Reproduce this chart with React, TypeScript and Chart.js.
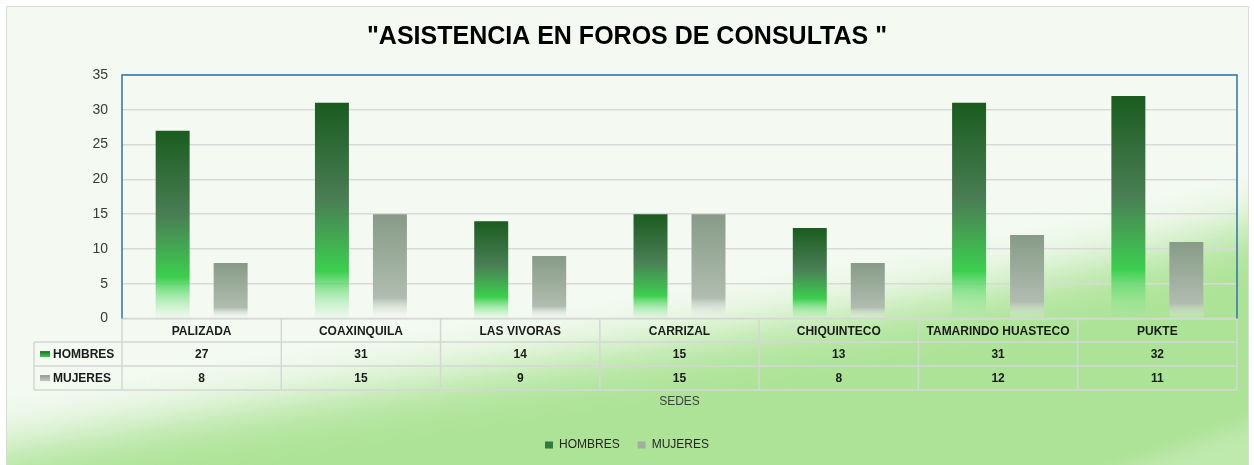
import React, { useEffect, useRef } from 'react';
import { Chart, registerables } from 'chart.js';

Chart.register(...registerables);

const categories = ['PALIZADA', 'COAXINQUILA', 'LAS VIVORAS', 'CARRIZAL', 'CHIQUINTECO', 'TAMARINDO HUASTECO', 'PUKTE'];
const hombres = [27, 31, 14, 15, 13, 31, 32];
const mujeres = [8, 15, 9, 15, 8, 12, 11];
const seriesNames = ['HOMBRES', 'MUJERES'];
const yMin = 0;
const yMax = 35;
const yStep = 5;
const chartTitle = '"ASISTENCIA EN FOROS DE CONSULTAS "';
const axisTitle = 'SEDES';

const FONT = "'Liberation Sans', Arial, sans-serif";
const legendColors = ['#2e7d3a', '#a2ada2'];

function barFill(kind: number) {
  return (c: any) => {
    const chart = c.chart;
    const y = chart.scales && chart.scales.y;
    const fallback = legendColors[kind];
    if (c.type !== 'data' || !y || !chart.chartArea) return fallback;
    const v = c.raw;
    const top = y.getPixelForValue(v);
    const base = y.getPixelForValue(0);
    if (!isFinite(top) || !isFinite(base) || Math.abs(base - top) < 1) return fallback;
    const g = chart.ctx.createLinearGradient(0, top, 0, base);
    if (kind === 0) {
      g.addColorStop(0, '#1a5c1f');
      g.addColorStop(0.45, '#4a7e55');
      g.addColorStop(0.78, '#3ccf4e');
      g.addColorStop(1, 'rgba(150,235,160,0.05)');
    } else {
      g.addColorStop(0, '#879b87');
      g.addColorStop(0.8, '#b0bcb0');
      g.addColorStop(1, 'rgba(240,242,240,0.1)');
    }
    return g;
  };
}

const backgroundPlugin = {
  id: 'bgPanel',
  beforeDraw(chart: any) {
    const { ctx, width, height } = chart;
    ctx.save();
    ctx.fillStyle = '#ffffff';
    ctx.fillRect(0, 0, width, height);
    const fx = 6, fy = 6, fw = 1243, fh = height;
    ctx.beginPath();
    ctx.rect(fx, fy, fw, fh);
    ctx.clip();
    ctx.fillStyle = '#f4faf2';
    ctx.fillRect(fx, fy, fw, fh);
    ctx.save();
    ctx.filter = 'blur(26px)';
    ctx.fillStyle = '#ade397';
    ctx.beginPath();
    ctx.moveTo(-80, 462);
    ctx.bezierCurveTo(200, 412, 480, 372, 700, 336);
    ctx.bezierCurveTo(900, 302, 1100, 275, 1330, 200);
    ctx.lineTo(1330, 600);
    ctx.lineTo(-80, 600);
    ctx.closePath();
    ctx.fill();
    ctx.restore();
    ctx.save();
    ctx.filter = 'blur(8px)';
    ctx.fillStyle = 'rgba(255,255,255,0.22)';
    ctx.beginPath();
    ctx.moveTo(1060, 490);
    ctx.lineTo(1300, 405);
    ctx.lineTo(1300, 560);
    ctx.lineTo(1060, 560);
    ctx.closePath();
    ctx.fill();
    ctx.restore();
    ctx.restore();
    ctx.save();
    ctx.strokeStyle = '#d9d9d9';
    ctx.lineWidth = 1;
    ctx.strokeRect(fx + 0.5, fy + 0.5, fw - 1, fh + 20);
    ctx.restore();
  },
};

const tablePlugin = {
  id: 'dataTable',
  afterDraw(chart: any) {
    const { ctx, chartArea, scales } = chart;
    const xs = scales.x;
    const n = categories.length;
    const step = n > 1 ? xs.getPixelForTick(1) - xs.getPixelForTick(0) : chartArea.right - chartArea.left;
    const top = chartArea.bottom;
    const r1 = top + 23.5;
    const r2 = r1 + 24;
    const r3 = r2 + 24;
    const leftCol = 34;
    const L = chartArea.left;
    const R = chartArea.right;
    ctx.save();
    ctx.strokeStyle = '#d6d6d6';
    ctx.lineWidth = 1.5;
    const line = (x1: number, y1: number, x2: number, y2: number) => {
      ctx.beginPath();
      ctx.moveTo(x1, y1);
      ctx.lineTo(x2, y2);
      ctx.stroke();
    };
    line(L, top, R, top);
    line(leftCol, r1, R, r1);
    line(leftCol, r2, R, r2);
    line(leftCol, r3, R, r3);
    line(leftCol, r1, leftCol, r3);
    for (let i = 0; i < n; i++) {
      const xb = xs.getPixelForTick(i) - step / 2;
      line(xb, top, xb, r3);
    }
    line(R, top, R, r3);

    ctx.fillStyle = '#1a1a1a';
    ctx.font = `bold 12px ${FONT}`;
    ctx.textAlign = 'center';
    ctx.textBaseline = 'middle';
    const rows = [chart.data.datasets[0].data, chart.data.datasets[1].data];
    for (let i = 0; i < n; i++) {
      const cx = xs.getPixelForTick(i);
      ctx.fillText(String(chart.data.labels[i]), cx, (top + r1) / 2 + 1);
      ctx.fillText(String(rows[0][i]), cx, (r1 + r2) / 2 + 1);
      ctx.fillText(String(rows[1][i]), cx, (r2 + r3) / 2 + 1);
    }
    const keyGrads = [
      ['#1e6a2a', '#3ccf4e'],
      ['#8a9a8a', '#c4ccc4'],
    ];
    const rowMid = [(r1 + r2) / 2, (r2 + r3) / 2];
    for (let k = 0; k < 2; k++) {
      const ky = rowMid[k] - 3;
      const g = ctx.createLinearGradient(0, ky, 0, ky + 6);
      g.addColorStop(0, keyGrads[k][0]);
      g.addColorStop(1, keyGrads[k][1]);
      ctx.fillStyle = g;
      ctx.fillRect(40, ky, 10, 6);
      ctx.fillStyle = '#1a1a1a';
      ctx.textAlign = 'left';
      ctx.fillText(seriesNames[k], 53, rowMid[k] + 1);
    }

    ctx.strokeStyle = '#2f74a5';
    ctx.lineWidth = 1.5;
    ctx.beginPath();
    ctx.moveTo(L, top);
    ctx.lineTo(L, chartArea.top);
    ctx.lineTo(R, chartArea.top);
    ctx.lineTo(R, top);
    ctx.stroke();
    ctx.restore();
  },
};

export default function App() {
  const ref = useRef<HTMLCanvasElement | null>(null);
  useEffect(() => {
    const canvas = ref.current;
    if (!canvas) return;
    const chart = new Chart(canvas, {
      type: 'bar',
      data: {
        labels: categories,
        datasets: [
          {
            label: seriesNames[0],
            data: hombres,
            backgroundColor: barFill(0),
            borderWidth: 0,
            categoryPercentage: 0.728,
            barPercentage: 0.586,
          },
          {
            label: seriesNames[1],
            data: mujeres,
            backgroundColor: barFill(1),
            borderWidth: 0,
            categoryPercentage: 0.728,
            barPercentage: 0.586,
          },
        ],
      },
      options: {
        responsive: false,
        animation: false,
        layout: { padding: { left: 0, right: 0, top: 0, bottom: 4 } },
        plugins: {
          title: {
            display: true,
            text: chartTitle,
            color: '#000000',
            font: { family: FONT, size: 25, weight: 'bold' },
            padding: { top: 22, bottom: 23 },
          },
          legend: {
            display: true,
            position: 'bottom',
            labels: {
              boxWidth: 8,
              boxHeight: 7,
              padding: 18,
              color: '#262626',
              font: { family: FONT, size: 12 },
              generateLabels: () =>
                seriesNames.map((name, i) => ({
                  text: name,
                  fillStyle: legendColors[i],
                  strokeStyle: legendColors[i],
                  lineWidth: 0,
                  hidden: false,
                  datasetIndex: i,
                  fontColor: '#262626',
                })),
            },
          },
          tooltip: { enabled: false },
        },
        scales: {
          x: {
            grid: { display: false },
            border: { display: false },
            ticks: { display: false },
            title: {
              display: true,
              text: axisTitle,
              color: '#404040',
              font: { family: FONT, size: 12 },
              padding: { top: 68, bottom: 12 },
            },
          },
          y: {
            min: yMin,
            max: yMax,
            grid: { color: '#d9d9d9', lineWidth: 1.5, drawTicks: false },
            border: { display: false },
            ticks: {
              stepSize: yStep,
              padding: 14,
              color: '#3a3a3a',
              font: { family: FONT, size: 14 },
            },
            afterFit: (s: any) => {
              s.width = 122;
            },
          },
          yR: {
            position: 'right',
            display: true,
            grid: { display: false },
            border: { display: false },
            ticks: { display: false },
            afterFit: (s: any) => {
              s.width = 17;
            },
          },
        },
      } as any,
      plugins: [backgroundPlugin, tablePlugin],
    });
    return () => chart.destroy();
  }, []);
  return (
    <div style={{ position: 'absolute', left: 0, top: 0, width: 1254, height: 465 }}>
      <canvas ref={ref} width={1254} height={465} style={{ display: 'block' }} />
    </div>
  );
}
